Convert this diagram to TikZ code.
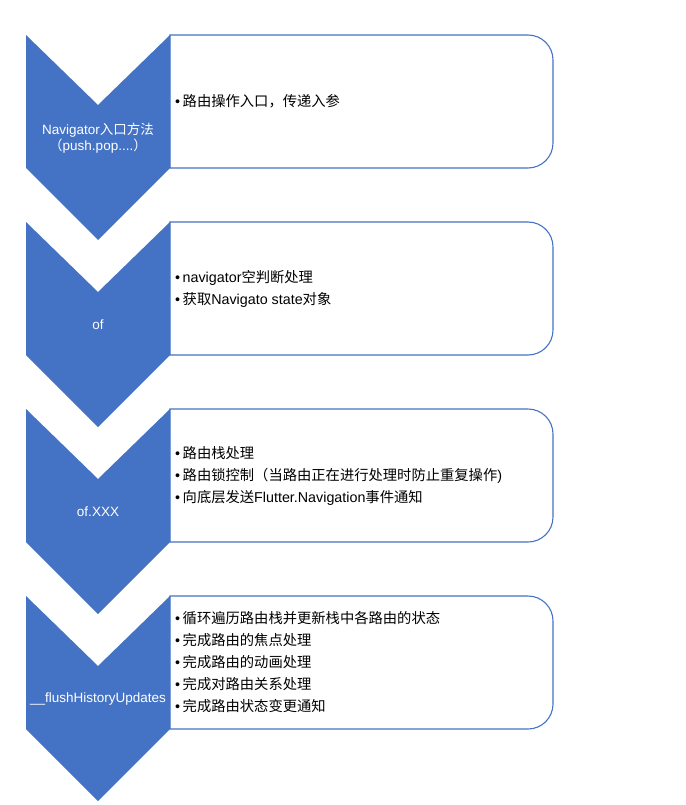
\documentclass[tikz,border=0pt]{standalone}
\usepackage{fontspec}
\setmainfont{Liberation Sans}
\newfontfamily\cjk{Noto Sans CJK SC}
\newcommand{\zh}[1]{{\cjk #1}}
\newcommand{\bul}{\textbullet\hspace{2.5pt}}
\definecolor{chevblue}{HTML}{4472C4}

\tikzset{
  chevron/.style={fill=chevblue},
  stagebox/.style={draw=chevblue, line width=1.1pt},
  steplabel/.style={text=white, align=center, inner sep=0pt,
    font=\fontsize{13.5}{16}\selectfont},
  itemtext/.style={anchor=west, align=left, inner sep=0pt,
    font=\fontsize{14.3}{22}\selectfont},
}

\begin{document}
\begin{tikzpicture}[x=1pt,y=1pt]
  \useasboundingbox (0,0) rectangle (685,-805);

  \foreach \t/\lab/\items [count=\n] in {
      35/{Navigator\zh{入口方法}\\\zh{（}push.pop....\zh{）}}/{\bul\zh{路由操作入口，传递入参}},
      222/{of}/{\bul navigator\zh{空判断处理}\\\bul\zh{获取}Navigato state\zh{对象}},
      409/{of.XXX}/{\bul\zh{路由栈处理}\\\bul\zh{路由锁控制（当路由正在进行处理时防止重复操作}) \\\bul\zh{向底层发送}Flutter.Navigation\zh{事件通知}},
      596/{\_\_flushHistoryUpdates}/{\bul\zh{循环遍历路由栈并更新栈中各路由的状态}\\\bul\zh{完成路由的焦点处理}\\\bul\zh{完成路由的动画处理}\\\bul\zh{完成对路由关系处理}\\\bul\zh{完成路由状态变更通知}}}
  {
    % box with rounded right side
    \draw[stagebox] (170,-\t) -- (528,-\t)
      arc[start angle=90, end angle=0, radius=25pt] -- (553,-\t-108)
      arc[start angle=0, end angle=-90, radius=25pt] -- (170,-\t-133) -- cycle;
    % chevron
    \fill[chevron] (26,-\t) -- (98,-\t-70) -- (170,-\t) -- (170,-\t-133)
      -- (98,-\t-205) -- (26,-\t-133) -- cycle;
    \node[steplabel] (step\n) at (98,-\t-103) {\lab};
    \node[itemtext] (items\n) at (175,-\t-66.5) {\items};
  }
\end{tikzpicture}
\end{document}
